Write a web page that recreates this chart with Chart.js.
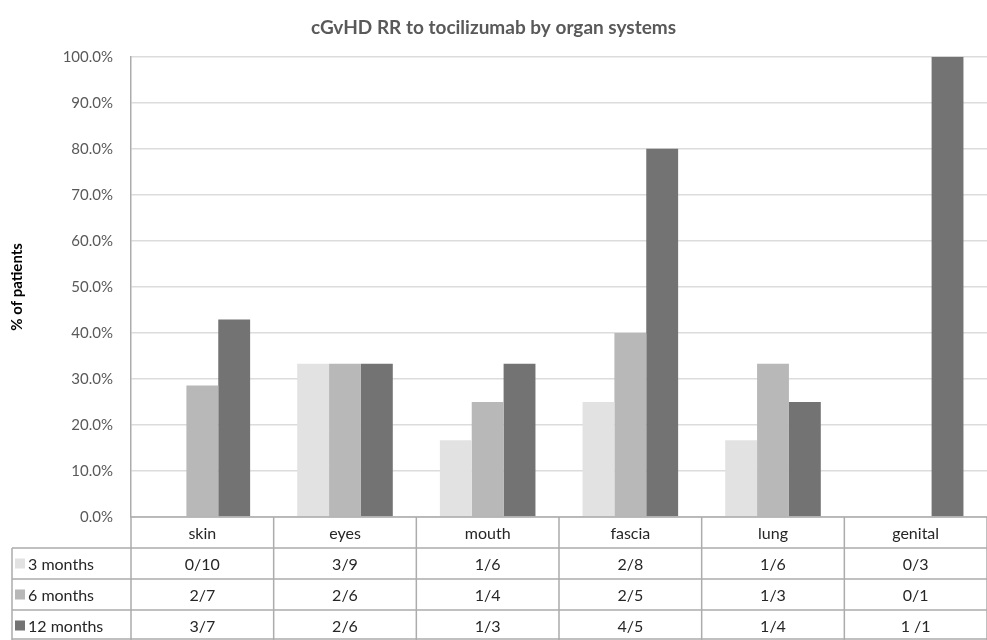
<!DOCTYPE html>
<html>
<head>
<meta charset="utf-8">
<script src="https://cdn.jsdelivr.net/npm/chart.js@4"></script>
<style>
  body { margin: 0; background: #fff; }
</style>
</head>
<body>
<canvas id="chart" width="987" height="640"></canvas>
<script>
const FONT = 'Lato, "Open Sans", sans-serif';

// organ systems
const organs = ['skin', 'eyes', 'mouth', 'fascia', 'lung', 'genital'];
const seriesNames = ['3 months', '6 months', '12 months'];
const seriesColors = ['#e2e2e2', '#b8b8b8', '#737373'];

// % responders
const pct3m = [0, 33.3, 16.7, 25.0, 16.7, 0];
const pct6m = [28.6, 33.3, 25.0, 40.0, 33.3, 0];
const pct12m = [42.9, 33.3, 33.3, 80.0, 25.0, 100.0];

// counts shown in the data table
const counts3m = ['0/10', '3/9', '1/6', '2/8', '1/6', '0/3'];
const counts6m = ['2/7', '2/6', '1/4', '2/5', '1/3', '0/1'];
const counts12m = ['3/7', '2/6', '1/3', '4/5', '1/4', '1 /1'];

const seriesValues = [pct3m, pct6m, pct12m];
const tableRows = [counts3m, counts6m, counts12m];

// draws the Excel-style data table under the plot
const dataTable = {
  id: 'dataTable',
  afterDraw(chart) {
    const ctx = chart.ctx;
    const x = chart.scales.x;
    const area = chart.chartArea;
    const colW = (area.right - area.left) / organs.length;
    const rowH = 31;
    const top = area.bottom;
    const bottom = top + rowH * 4;
    const outerLeft = 12;

    ctx.save();
    ctx.strokeStyle = '#acacac';
    ctx.lineWidth = 1.5;

    // horizontal lines
    ctx.beginPath();
    ctx.moveTo(area.left, top);
    ctx.lineTo(area.right, top);
    for (let r = 1; r <= 4; r++) {
      const y = Math.min(top + rowH * r, 639);
      ctx.moveTo(outerLeft, y);
      ctx.lineTo(area.right, y);
    }
    // vertical lines
    ctx.moveTo(outerLeft, top + rowH);
    ctx.lineTo(outerLeft, bottom);
    for (let i = 0; i <= organs.length; i++) {
      const vx = area.left + colW * i;
      ctx.moveTo(vx, top);
      ctx.lineTo(vx, bottom);
    }
    ctx.stroke();

    ctx.font = '16px ' + FONT;
    ctx.fillStyle = '#262626';
    ctx.textAlign = 'center';
    ctx.textBaseline = 'middle';

    organs.forEach((name, i) => {
      ctx.fillText(name, x.getPixelForValue(i), top + rowH / 2 + 1);
    });

    tableRows.forEach((row, r) => {
      const cy = top + rowH * (r + 1) + rowH / 2 + 1;
      row.forEach((txt, i) => {
        ctx.fillText(txt, x.getPixelForValue(i), cy);
      });
      // legend key + series name
      ctx.fillStyle = seriesColors[r];
      ctx.fillRect(15, cy - 6, 10, 10);
      ctx.fillStyle = '#262626';
      ctx.textAlign = 'left';
      ctx.fillText(seriesNames[r], 28, cy);
      ctx.textAlign = 'center';
    });
    ctx.restore();
  }
};

new Chart(document.getElementById('chart'), {
  type: 'bar',
  data: {
    labels: organs,
    datasets: seriesNames.map((name, i) => ({
      label: name,
      data: seriesValues[i],
      backgroundColor: seriesColors[i],
      borderWidth: 0,
      categoryPercentage: 0.67,
      barPercentage: 1.0
    }))
  },
  options: {
    responsive: false,
    animation: false,
    devicePixelRatio: 1,
    layout: {
      padding: { left: 0, right: 0, top: 0, bottom: 123 }
    },
    scales: {
      x: {
        display: false
      },
      y: {
        min: 0,
        max: 100,
        afterFit(scale) { scale.width = 131; },
        ticks: {
          stepSize: 10,
          padding: 18,
          color: '#595959',
          font: { family: FONT, size: 15 },
          callback: v => v.toFixed(1) + '%'
        },
        grid: {
          color: '#dcdcdc',
          lineWidth: 1.5,
          drawTicks: false
        },
        border: { display: true, color: '#acacac', width: 1.5 },
        title: {
          display: true,
          text: '% of patients',
          color: '#000',
          font: { family: FONT, size: 15, weight: 'bold' },
          padding: { top: 8, bottom: 0 }
        }
      }
    },
    plugins: {
      legend: { display: false },
      tooltip: { enabled: false },
      title: {
        display: true,
        text: 'cGvHD RR to tocilizumab by organ systems',
        color: '#595959',
        font: { family: FONT, size: 19, weight: 'bold' },
        padding: { top: 16, bottom: 18 }
      }
    }
  },
  plugins: [dataTable]
});
</script>
</body>
</html>
